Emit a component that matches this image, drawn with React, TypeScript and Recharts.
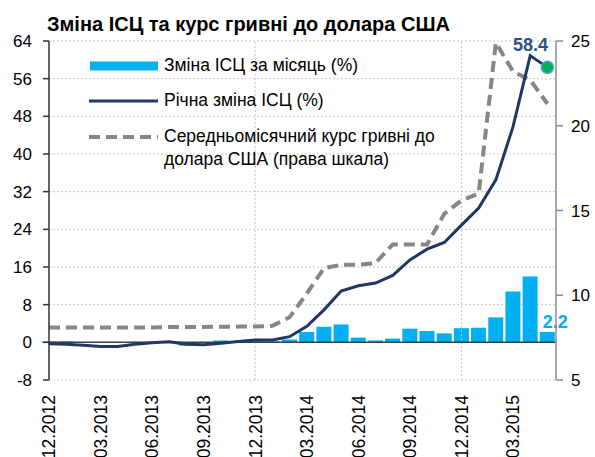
import {
  ComposedChart,
  Bar,
  Line,
  XAxis,
  YAxis,
  CartesianGrid,
  ReferenceLine,
  Legend,
  LabelList,
} from "recharts";

const months = [
  "12.2012", "01.2013", "02.2013", "03.2013", "04.2013", "05.2013", "06.2013",
  "07.2013", "08.2013", "09.2013", "10.2013", "11.2013", "12.2013", "01.2014",
  "02.2014", "03.2014", "04.2014", "05.2014", "06.2014", "07.2014", "08.2014",
  "09.2014", "10.2014", "11.2014", "12.2014", "01.2015", "02.2015", "03.2015",
  "04.2015", "05.2015",
];

// місячна зміна ІСЦ, %
const monthlyCpi = [
  0.2, 0.2, -0.1, 0.0, 0.0, 0.1, 0.1, -0.1, -0.7, 0.0, 0.4, 0.2, 0.5, 0.2,
  0.6, 2.2, 3.3, 3.8, 1.0, 0.4, 0.8, 2.9, 2.4, 1.9, 3.0, 3.1, 5.3, 10.8, 14.0,
  2.2,
];

// річна зміна ІСЦ, %
const annualCpi = [
  -0.3, -0.4, -0.6, -0.9, -0.9, -0.4, -0.1, 0.1, -0.4, -0.5, -0.2, 0.2, 0.5,
  0.5, 1.2, 3.4, 6.9, 10.9, 12.0, 12.6, 14.2, 17.5, 19.8, 21.2, 24.9, 28.5,
  34.5, 45.8, 60.9, 58.4,
];

// середньомісячний курс, грн/дол.
const uahRate = [
  8.1, 8.1, 8.1, 8.1, 8.1, 8.1, 8.1, 8.12, 8.13, 8.13, 8.14, 8.15, 8.15, 8.2,
  8.7, 10.1, 11.6, 11.8, 11.8, 11.9, 13.0, 13.0, 13.0, 14.8, 15.6, 16.0, 24.9,
  23.2, 22.7, 21.3,
];

const leftTicks = [-8, 0, 8, 16, 24, 32, 40, 48, 56, 64];
const rightTicks = [5, 10, 15, 20, 25];
const xTicks = [0, 3, 6, 9, 12, 15, 18, 21, 24, 27];

const data = months.map((m, i) => ({
  i,
  month: m,
  monthly: monthlyCpi[i],
  annual: annualCpi[i],
  rate: uahRate[i],
}));

const last = data.length - 1;
const FONT = "'Liberation Sans', Arial, sans-serif";
const BLUE = "#00b0f0";
const NAVY = "#1f3864";
const GREY = "#868686";

const XTick = ({ x, y, payload }) => (
  <text
    transform={`translate(${x},${y + 15}) rotate(-90)`}
    textAnchor="end"
    dy="0.36em"
    fontSize={17.5}
    fontFamily={FONT}
    fill="#000"
  >
    {months[payload.value]}
  </text>
);

const LastDot = (props) => {
  const { cx, cy, index } = props;
  if (index !== last) return <g key={index} />;
  return (
    <circle
      key={index}
      cx={cx}
      cy={cy}
      r={6}
      fill="#00b050"
      stroke="#4f9ed8"
      strokeWidth={1.5}
    />
  );
};

const AnnualLabel = (props) => {
  const { x, y, index, value } = props;
  if (index !== last) return null;
  return (
    <text
      x={x - 17}
      y={y - 16}
      textAnchor="middle"
      fontSize={18}
      fontWeight="bold"
      fontFamily={FONT}
      fill="#2b5288"
    >
      {value}
    </text>
  );
};

// bar + value label on the last month
const BarShape = (props) => {
  const { x, y, width, height, index, payload } = props;
  const top = height < 0 ? y + height : y;
  const h = Math.abs(height);
  return (
    <g>
      <rect x={x} y={top} width={width} height={h} fill={BLUE} />
      {index === last && (
        <text
          x={x + width / 2 + 8}
          y={top - 4}
          textAnchor="middle"
          fontSize={18}
          fontWeight="bold"
          fontFamily={FONT}
          fill={BLUE}
        >
          {payload.monthly}
        </text>
      )}
    </g>
  );
};

const LegendBox = () => (
  <div
    style={{
      fontFamily: FONT,
      fontSize: 17.5,
      lineHeight: "23px",
      color: "#000",
      textAlign: "left",
    }}
  >
    <div style={{ display: "flex", alignItems: "center", height: 35 }}>
      <svg width={69} height={12} style={{ marginRight: 6 }}>
        <rect x={1} y={1.5} width={68} height={9} fill={BLUE} />
      </svg>
      <span>Зміна ІСЦ за місяць (%)</span>
    </div>
    <div style={{ display: "flex", alignItems: "center", height: 35 }}>
      <svg width={69} height={12} style={{ marginRight: 6 }}>
        <line x1={0} y1={6} x2={69} y2={6} stroke={NAVY} strokeWidth={3} />
      </svg>
      <span>Річна зміна ІСЦ (%)</span>
    </div>
    <div style={{ display: "flex", alignItems: "flex-start", marginTop: 7 }}>
      <svg width={69} height={23} style={{ marginRight: 6 }}>
        <line
          x1={0}
          y1={12}
          x2={69}
          y2={12}
          stroke={GREY}
          strokeWidth={4}
          strokeDasharray="11 6"
        />
      </svg>
      <span>
        Середньомісячний курс гривні до
        <br />
        долара США (права шкала)
      </span>
    </div>
  </div>
);

export default function App() {
  return (
    <div
      style={{
        position: "absolute",
        left: 0,
        top: 0,
        width: 595,
        height: 457,
        background: "#fff",
      }}
    >
      <div
        style={{
          position: "absolute",
          left: 47,
          top: 14,
          fontFamily: FONT,
          fontWeight: "bold",
          fontSize: 20,
          lineHeight: "20px",
          whiteSpace: "nowrap",
          zIndex: 2,
        }}
      >
        Зміна ІСЦ та курс гривні до долара США
      </div>
      <ComposedChart
        width={595}
        height={457}
        data={data}
        margin={{ top: 41, right: 0, left: 0, bottom: 0 }}
      >
        <CartesianGrid
          yAxisId="left"
          vertical={false}
          stroke="#c8c8c8"
          strokeDasharray="2 2"
        />
        <XAxis
          dataKey="i"
          type="number"
          domain={[0, 29.5]}
          ticks={xTicks}
          axisLine={false}
          tickLine={false}
          tickSize={0}
          tickMargin={0}
          height={77}
          interval={0}
          tick={<XTick />}
        />
        <YAxis
          yAxisId="left"
          domain={[-8, 64]}
          ticks={leftTicks}
          width={49}
          tickSize={6}
          tickMargin={11}
          axisLine={{ stroke: "#333", strokeWidth: 1.5 }}
          tickLine={{ stroke: "#333", strokeWidth: 1.5 }}
          tick={{ fontSize: 17, fontFamily: FONT, fill: "#000" }}
          interval={0}
        />
        <YAxis
          yAxisId="right"
          orientation="right"
          domain={[5, 25]}
          ticks={rightTicks}
          width={39}
          tickSize={7}
          tickMargin={8}
          axisLine={{ stroke: "#8c8c8c", strokeWidth: 1.5 }}
          tickLine={{ stroke: "#8c8c8c", strokeWidth: 1.5 }}
          tick={{ fontSize: 17, fontFamily: FONT, fill: "#000" }}
          interval={0}
        />
        <ReferenceLine
          yAxisId="left"
          x={12}
          stroke="#c8c8c8"
          strokeDasharray="2 2"
        />
        <ReferenceLine
          yAxisId="left"
          x={24}
          stroke="#c8c8c8"
          strokeDasharray="2 2"
        />
        <Legend
          layout="vertical"
          align="center"
          verticalAlign="middle"
          content={<LegendBox />}
          wrapperStyle={{ left: 89, top: 48, width: "auto" }}
        />
        <Bar
          yAxisId="left"
          dataKey="monthly"
          fill={BLUE}
          barSize={15}
          shape={BarShape}
          isAnimationActive={false}
        />
        <ReferenceLine yAxisId="left" y={0} stroke="#404040" strokeWidth={1.5} />
        <Line
          yAxisId="right"
          dataKey="rate"
          type="linear"
          stroke={GREY}
          strokeWidth={4}
          strokeDasharray="11 6"
          dot={false}
          isAnimationActive={false}
        />
        <Line
          yAxisId="left"
          dataKey="annual"
          type="linear"
          stroke={NAVY}
          strokeWidth={3}
          dot={<LastDot />}
          activeDot={false}
          isAnimationActive={false}
        >
          <LabelList dataKey="annual" content={<AnnualLabel />} />
        </Line>
      </ComposedChart>
    </div>
  );
}
